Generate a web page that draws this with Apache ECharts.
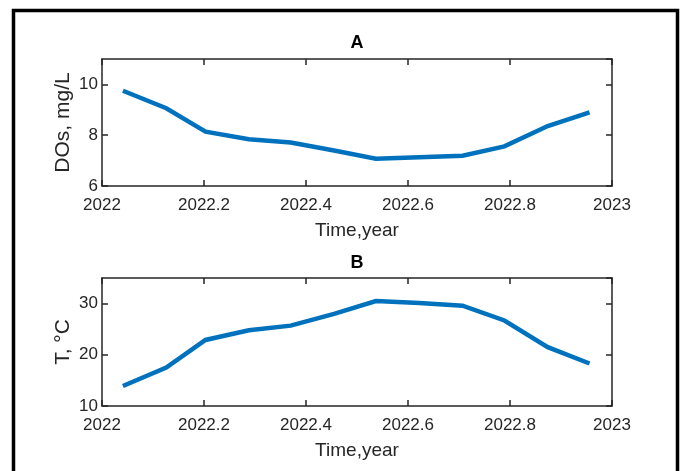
<!DOCTYPE html>
<html>
<head>
<meta charset="utf-8">
<script src="https://cdn.jsdelivr.net/npm/echarts@6/dist/echarts.min.js"></script>
<style>
  html, body { margin: 0; padding: 0; background: #fff; }
  #chart { width: 683px; height: 471px; }
</style>
</head>
<body>
<div id="chart"></div>
<script>
// Monthly sampling times (mid-month, fractional year)
const times = [2022.041, 2022.126, 2022.203, 2022.288, 2022.370, 2022.455,
               2022.537, 2022.622, 2022.707, 2022.789, 2022.874, 2022.956];
// Dissolved oxygen, mg/L
const doValues = [9.75, 9.06, 8.14, 7.84, 7.71, 7.40, 7.07, 7.13, 7.19, 7.56, 8.36, 8.90];
// Water temperature, °C
const tempValues = [13.9, 17.5, 22.9, 24.8, 25.7, 28.0, 30.5, 30.1, 29.6, 26.7, 21.5, 18.3];

const panelTitles = ['A', 'B'];
const yNames = ['DOs, mg/L', 'T, °C'];
const xName = 'Time,year';
const yRanges = [{ min: 6, max: 11, interval: 2 }, { min: 10, max: 35, interval: 10 }];
const xRange = { min: 2022, max: 2023, interval: 0.2 };

const ink = '#262626';
const font = 'Liberation Sans, Arial, sans-serif';

const grids = [
  { left: 102, top: 59, width: 510, height: 127 },
  { left: 102, top: 278, width: 510, height: 128 }
];

const xAxes = [];
const yAxes = [];
const series = [];
const dataSets = [doValues, tempValues];

grids.forEach((g, i) => {
  // bottom axis with labels
  xAxes.push({
    type: 'value', gridIndex: i, position: 'bottom',
    min: xRange.min, max: xRange.max, interval: xRange.interval,
    name: xName, nameLocation: 'middle', nameGap: 35, nameMoveOverlap: false,
    nameTextStyle: { color: ink, fontSize: 19, fontFamily: font },
    axisLine: { show: true, onZero: false, lineStyle: { color: ink, width: 1.5 } },
    axisTick: { show: true, inside: true, length: 6, lineStyle: { color: ink, width: 1.5 } },
    axisLabel: { color: ink, fontSize: 17, fontFamily: font, margin: 11,
                 formatter: v => String(+v.toFixed(1)) },
    splitLine: { show: false }
  });
  // top mirror axis, ticks only
  xAxes.push({
    type: 'value', gridIndex: i, position: 'top',
    min: xRange.min, max: xRange.max, interval: xRange.interval,
    axisLine: { show: true, onZero: false, lineStyle: { color: ink, width: 1.5 } },
    axisTick: { show: true, inside: true, length: 6, lineStyle: { color: ink, width: 1.5 } },
    axisLabel: { show: false },
    splitLine: { show: false }
  });
  const yr = yRanges[i];
  yAxes.push({
    type: 'value', gridIndex: i, position: 'left',
    min: yr.min, max: yr.max, interval: yr.interval,
    name: yNames[i], nameLocation: 'middle', nameGap: 28, nameRotate: 90,
    nameMoveOverlap: false,
    nameTextStyle: { color: ink, fontSize: 21, fontFamily: font },
    axisLine: { show: true, onZero: false, lineStyle: { color: ink, width: 1.5 } },
    axisTick: { show: true, inside: true, length: 6, lineStyle: { color: ink, width: 1.5 } },
    axisLabel: { color: ink, fontSize: 17, fontFamily: font, margin: 4,
                 showMaxLabel: false },
    splitLine: { show: false }
  });
  yAxes.push({
    type: 'value', gridIndex: i, position: 'right',
    min: yr.min, max: yr.max, interval: yr.interval,
    axisLine: { show: true, onZero: false, lineStyle: { color: ink, width: 1.5 } },
    axisTick: { show: true, inside: true, length: 6, lineStyle: { color: ink, width: 1.5 } },
    axisLabel: { show: false },
    splitLine: { show: false }
  });
  series.push({
    type: 'line',
    xAxisIndex: i * 2, yAxisIndex: i * 2,
    data: times.map((t, k) => [t, dataSets[i][k]]),
    showSymbol: false, symbol: 'none',
    lineStyle: { color: '#0072BD', width: 4.5, cap: 'butt', join: 'miter' },
    silent: true, animation: false
  });
});

const chart = echarts.init(document.getElementById('chart'), null, { renderer: 'canvas' });
chart.setOption({
  animation: false,
  backgroundColor: '#ffffff',
  grid: grids,
  xAxis: xAxes,
  yAxis: yAxes,
  series: series,
  graphic: [
    // outer frame
    { type: 'rect', shape: { x: 13.5, y: 10.5, width: 664, height: 500 },
      style: { fill: 'none', stroke: '#000', lineWidth: 3.5 }, silent: true },
    { type: 'text', x: 357, y: 43,
      style: { text: panelTitles[0], font: 'bold 18px ' + font, fill: '#000',
               textAlign: 'center', textVerticalAlign: 'middle' } },
    { type: 'text', x: 357, y: 263,
      style: { text: panelTitles[1], font: 'bold 18px ' + font, fill: '#000',
               textAlign: 'center', textVerticalAlign: 'middle' } }
  ]
});
</script>
</body>
</html>
